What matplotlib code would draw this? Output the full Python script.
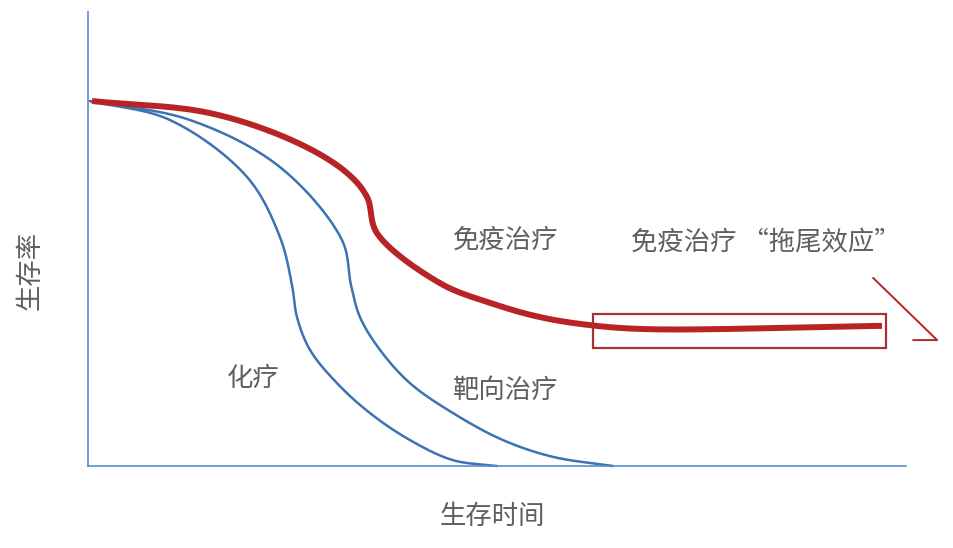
import numpy as np
import matplotlib
matplotlib.use("Agg")
import matplotlib.pyplot as plt
from matplotlib.patches import Rectangle

plt.rcParams['font.family'] = ['Noto Sans CJK SC', 'DejaVu Sans']

# ---- data (time units, survival %) ----
chemo_t = [0.24, 10.02, 19.44, 23.47, 24.94, 25.55, 27.14, 30.44, 34.47, 39.36, 44.62, 50.00]
chemo_s = [100, 94.8, 79.2, 62.7, 49.6, 40.8, 31.8, 22.7, 14.5, 7.1, 1.6, 0]

target_t = [0.24, 12.47, 23.47, 31.05, 32.15, 33.25, 35.70, 39.36, 44.62, 50.73, 56.85, 64.18]
target_s = [100, 94.8, 81.9, 61.9, 49.6, 40.8, 31.8, 22.7, 14.5, 7.1, 2.5, 0]

immune_t = [0.49, 14.91, 25.67, 31.66, 34.11, 35.33, 43.03, 49.14, 55.26, 61.37, 68.34, 97.07]
immune_s = [100, 96.7, 88.5, 80.3, 73.7, 63.8, 50.1, 44.7, 40.8, 38.6, 37.5, 38.4]

labels = ["化疗", "靶向治疗", "免疫治疗", "免疫治疗 “拖尾效应”"]
xlabel = "生存时间"
ylabel = "生存率"

BLUE = "#3b73b3"
AXIS_BLUE = "#5a8ccc"
RED = "#b82426"
BOX_RED = "#a8302f"
GRAY = "#5f5f5f"

fig = plt.figure(figsize=(9.54, 5.48), dpi=100)
ax = fig.add_axes([88 / 954, (548 - 466) / 548, 818 / 954, (466 - 12) / 548])
ax.set_xlim(0, 100)
ax.set_ylim(0, 124.4)


def smooth(x, y, n=40, alpha=0.5):
    """Centripetal Catmull-Rom curve through the read points (drawing only),
    parametrised in display space so the curve does not wobble."""
    pts = ax.transData.transform(np.column_stack([x, y]).astype(float))
    p = np.vstack([pts[0] * 2 - pts[1], pts, pts[-1] * 2 - pts[-2]])
    out = []
    for i in range(1, len(p) - 2):
        p0, p1, p2, p3 = p[i - 1], p[i], p[i + 1], p[i + 2]
        t0 = 0.0
        t1 = t0 + np.linalg.norm(p1 - p0) ** alpha
        t2 = t1 + np.linalg.norm(p2 - p1) ** alpha
        t3 = t2 + np.linalg.norm(p3 - p2) ** alpha
        t = np.linspace(t1, t2, n, endpoint=False)[:, None]
        a1 = (t1 - t) / (t1 - t0) * p0 + (t - t0) / (t1 - t0) * p1
        a2 = (t2 - t) / (t2 - t1) * p1 + (t - t1) / (t2 - t1) * p2
        a3 = (t3 - t) / (t3 - t2) * p2 + (t - t2) / (t3 - t2) * p3
        b1 = (t2 - t) / (t2 - t0) * a1 + (t - t0) / (t2 - t0) * a2
        b2 = (t3 - t) / (t3 - t1) * a2 + (t - t1) / (t3 - t1) * a3
        c = (t2 - t) / (t2 - t1) * b1 + (t - t1) / (t2 - t1) * b2
        out.append(c)
    out.append(p[-2][None, :])
    out = ax.transData.inverted().transform(np.vstack(out))
    return out[:, 0], out[:, 1]


for s in ["top", "right"]:
    ax.spines[s].set_visible(False)
for s in ["left", "bottom"]:
    ax.spines[s].set_color(AXIS_BLUE)
    ax.spines[s].set_linewidth(1.2)
ax.set_xticks([])
ax.set_yticks([])

x, y = smooth(chemo_t, chemo_s)
ax.plot(x, y, color=BLUE, lw=1.8, solid_capstyle="round", clip_on=False)
x, y = smooth(target_t, target_s)
ax.plot(x, y, color=BLUE, lw=1.8, solid_capstyle="round", clip_on=False)
x, y = smooth(immune_t, immune_s)
ax.plot(x, y, color=RED, lw=4.3, solid_capstyle="butt", clip_on=False, zorder=3)

# box around the tail
ax.add_patch(Rectangle((61.7, 32.3), 97.6 - 61.7, 41.6 - 32.3, fill=False,
                       ec=BOX_RED, lw=1.6, clip_on=False, zorder=4))
# arrow-like stroke
ax.plot([96.0, 103.8, 100.9], [51.5, 34.5, 34.5], color=RED, lw=1.4, clip_on=False)

fs = 19
ax.text(20.2, 24.1, labels[0], fontsize=fs, color=GRAY, ha="center", va="center")
ax.text(51.0, 20.8, labels[1], fontsize=fs, color=GRAY, ha="center", va="center")
ax.text(51.1, 61.9, labels[2], fontsize=fs, color=GRAY, ha="center", va="center")
ax.text(82.9, 61.1, labels[3], fontsize=fs, color=GRAY, ha="center", va="center")

fig.text(492 / 954, 1 - 517 / 548, xlabel, fontsize=fs, color=GRAY, ha="center", va="center")
fig.text(30 / 954, 1 - 270 / 548, ylabel, fontsize=fs, color=GRAY, ha="center", va="center",
         rotation=90)

fig.savefig("out.png", dpi=100)
